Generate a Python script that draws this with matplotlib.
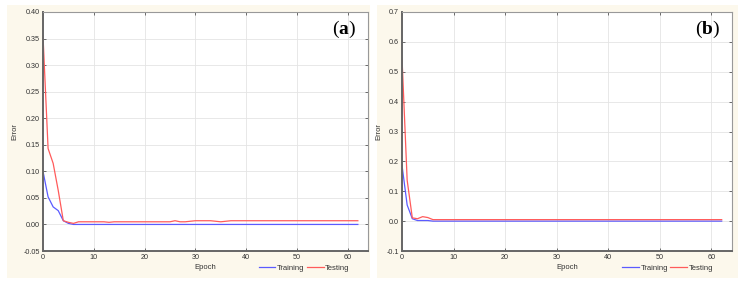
import matplotlib
matplotlib.use("Agg")
import matplotlib.pyplot as plt
from matplotlib.patches import Rectangle
import numpy as np

plt.rcParams['font.family'] = ['Liberation Sans', 'DejaVu Sans']
plt.rcParams['mathtext.fontset'] = 'custom'
plt.rcParams['mathtext.rm'] = 'Liberation Serif'
plt.rcParams['mathtext.bf'] = 'Liberation Serif:bold'

# --- data ---
epochs = list(range(63))

# panel (a)
train_a = [0.100, 0.052, 0.033, 0.026, 0.007, 0.002, 0.0] + [0.0] * 56
test_a = ([0.355, 0.143, 0.115, 0.064, 0.007, 0.004, 0.002, 0.005, 0.005, 0.005,
           0.005, 0.005, 0.005, 0.004, 0.005, 0.005, 0.005, 0.005, 0.005, 0.005,
           0.005, 0.005, 0.005, 0.005, 0.005, 0.005, 0.007, 0.005, 0.005, 0.006,
           0.007, 0.007, 0.007, 0.007, 0.006, 0.005, 0.006, 0.007]
          + [0.007] * 25)

# panel (b)
train_b = [0.187, 0.054, 0.008, 0.002, 0.002, 0.002, 0.0] + [0.0] * 56
test_b = [0.547, 0.137, 0.011, 0.008, 0.015, 0.012, 0.005] + [0.005] * 56

panels = [
    ("a", train_a, test_a, (-0.05, 0.40), np.arange(-0.05, 0.401, 0.05), "{:.2f}"),
    ("b", train_b, test_b, (-0.1, 0.7), np.arange(-0.1, 0.701, 0.1), "{:.1f}"),
]

W, H = 742, 284
fig = plt.figure(figsize=(W / 100, H / 100), dpi=100)
fig.patch.set_facecolor("white")

cream = "#fcf8ec"
# cream panel backgrounds (pixel boxes: x0, y0, x1, y1)
for x0, y0, x1, y1 in [(7, 5, 370, 278), (377, 5, 738, 278)]:
    fig.patches.append(Rectangle((x0 / W, 1 - y1 / H), (x1 - x0) / W, (y1 - y0) / H,
                                 transform=fig.transFigure, facecolor=cream,
                                 edgecolor="none", zorder=-10))

axes_px = [(43, 12, 368, 251), (402, 12, 732, 251)]
ylab_x = [15, 379]

for (label, tr, te, ylim, yticks, fmt), (x0, y0, x1, y1), ylx in zip(panels, axes_px, ylab_x):
    ax = fig.add_axes([x0 / W, 1 - y1 / H, (x1 - x0) / W, (y1 - y0) / H])
    ax.set_facecolor("white")
    ax.plot(epochs, tr, color="#5b5bff", lw=0.9, label="Training")
    ax.plot(epochs, te, color="#ff5b5b", lw=0.9, label="Testing")

    ax.set_xlim(0, 64)
    ax.set_ylim(*ylim)
    ax.set_xticks(range(0, 61, 10))
    ax.set_yticks(yticks)
    ax.set_yticklabels([fmt.format(v) for v in yticks])
    ax.grid(True, color="#e4e4e4", lw=0.6)
    ax.set_axisbelow(True)

    ax.tick_params(direction="in", length=2, width=0.6, labelsize=5.2,
                   colors="#555555", labelcolor="#333333", top=True, right=True, pad=2)
    for side in ["left", "bottom"]:
        ax.spines[side].set_color("#666666")
        ax.spines[side].set_linewidth(1.4)
    for side in ["top", "right"]:
        ax.spines[side].set_color("#999999")
        ax.spines[side].set_linewidth(0.8)

    ax.set_xlabel("Epoch", fontsize=5.5, color="#333333", labelpad=2)
    fig.text(ylx / W, 1 - 132 / H, "Error", rotation=90, fontsize=5.5,
             color="#333333", ha="center", va="center")

    ax.legend(loc="center right", bbox_to_anchor=(0.955, -0.072), ncol=2,
              frameon=False, fontsize=5.5, handlelength=2.2, handletextpad=0.2,
              columnspacing=0.3, borderpad=0, labelcolor="#333333")

    ax.text(0.925, 0.925, r"$\mathrm{(}\mathbf{%s}\mathrm{)}$" % label,
            transform=ax.transAxes, ha="center", va="center", fontsize=14)

fig.savefig("out.png", dpi=100, facecolor="white")
